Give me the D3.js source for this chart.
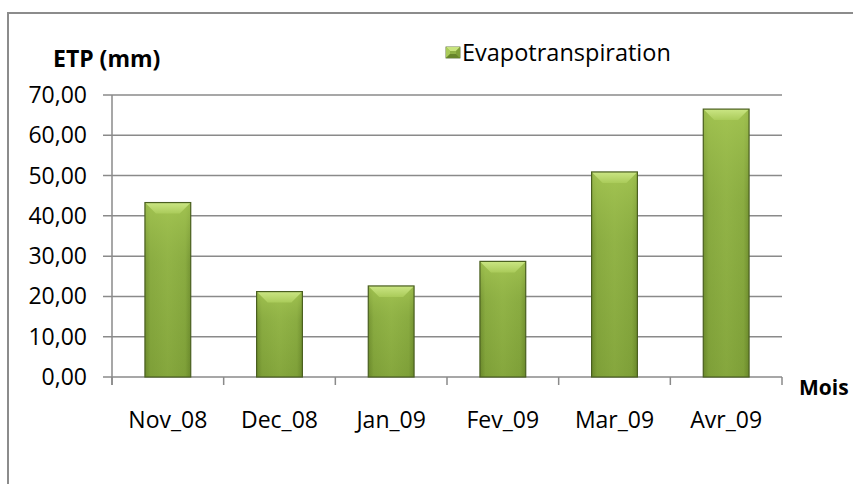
<!DOCTYPE html>
<html>
<head>
<meta charset="utf-8">
<script src="https://cdn.jsdelivr.net/npm/d3@7"></script>
<style>
  html, body { margin: 0; padding: 0; background: #fff; }
  svg { display: block; }
  text { font-family: "Open Sans", sans-serif; fill: #000; }
</style>
</head>
<body>
<svg id="chart" width="853" height="484"></svg>
<script>
// Monthly evapotranspiration (mm)
const months = ["Nov_08", "Dec_08", "Jan_09", "Fev_09", "Mar_09", "Avr_09"];
const etp = [43.3, 21.2, 22.6, 28.7, 50.9, 66.5];
const yTicks = [0, 10, 20, 30, 40, 50, 60, 70];
const seriesName = "Evapotranspiration";
const yTitle = "ETP (mm)";
const xTitle = "Mois";

const svg = d3.select("#chart");
const plot = { left: 112, right: 782, top: 95, bottom: 377 };

const x = d3.scaleBand().domain(months).range([plot.left, plot.right]).paddingInner(0.59).paddingOuter(0.295);
const y = d3.scaleLinear().domain([0, 70]).range([plot.bottom, plot.top]);
const fmt = v => d3.format(".2f")(v).replace(".", ",");

// chart frame
svg.append("path")
  .attr("d", "M8,490 L8,13 L860,13")
  .attr("fill", "none").attr("stroke", "#8c8c8c").attr("stroke-width", 2);

// gradients for the bevelled bars
const defs = svg.append("defs");
const body = defs.append("linearGradient").attr("id", "barBody").attr("x1", 0).attr("x2", 1).attr("y1", 0).attr("y2", 0);
body.append("stop").attr("offset", "0%").attr("stop-color", "#67852a");
body.append("stop").attr("offset", "12%").attr("stop-color", "#84a63d");
body.append("stop").attr("offset", "50%").attr("stop-color", "#8fb145");
body.append("stop").attr("offset", "88%").attr("stop-color", "#84a63d");
body.append("stop").attr("offset", "100%").attr("stop-color", "#67852a");
const vert = defs.append("linearGradient").attr("id", "barVert").attr("x1", 0).attr("x2", 0).attr("y1", 0).attr("y2", 1);
vert.append("stop").attr("offset", "0%").attr("stop-color", "#a8c955").attr("stop-opacity", 0.8);
vert.append("stop").attr("offset", "35%").attr("stop-color", "#98b94b").attr("stop-opacity", 0.3);
vert.append("stop").attr("offset", "100%").attr("stop-color", "#6f8f2c").attr("stop-opacity", 0.3);
const bevel = defs.append("linearGradient").attr("id", "bevelTop").attr("x1", 0).attr("x2", 0).attr("y1", 0).attr("y2", 1);
bevel.append("stop").attr("offset", "0%").attr("stop-color", "#cbe684");
bevel.append("stop").attr("offset", "100%").attr("stop-color", "#aacb5a");

// horizontal gridlines with left tick marks
svg.append("g").selectAll("line").data(yTicks).join("line")
  .attr("x1", plot.left - 9).attr("x2", plot.right)
  .attr("y1", d => y(d)).attr("y2", d => y(d))
  .attr("stroke", "#8a8a8a").attr("stroke-width", 1.5);

// y axis line
svg.append("line")
  .attr("x1", plot.left).attr("x2", plot.left)
  .attr("y1", y(70)).attr("y2", y(0) + 8)
  .attr("stroke", "#8a8a8a").attr("stroke-width", 1.5);

// x axis tick marks at category boundaries
const boundaries = months.map(m => x(m) - x.step() * x.paddingInner() / 2).concat([plot.right]);
svg.append("g").selectAll("line").data(boundaries).join("line")
  .attr("x1", d => d).attr("x2", d => d)
  .attr("y1", y(0)).attr("y2", y(0) + 8)
  .attr("stroke", "#8a8a8a").attr("stroke-width", 1.5);

// y tick labels
svg.append("g").selectAll("text").data(yTicks).join("text")
  .attr("x", 87).attr("y", d => y(d)).attr("dy", "0.35em")
  .attr("text-anchor", "end").attr("font-size", 23)
  .text(fmt);

// x tick labels
svg.append("g").selectAll("text").data(months).join("text")
  .attr("x", d => x(d) + x.bandwidth() / 2).attr("y", 428)
  .attr("text-anchor", "middle").attr("font-size", 23)
  .text(d => d);

// bars
const bars = svg.append("g").selectAll("g").data(months.map((m, i) => ({ m, v: etp[i] }))).join("g");
const bw = x.bandwidth();
bars.append("rect")
  .attr("x", d => x(d.m)).attr("y", d => y(d.v))
  .attr("width", bw).attr("height", d => y(0) - y(d.v))
  .attr("fill", "url(#barBody)");
bars.append("rect")
  .attr("x", d => x(d.m)).attr("y", d => y(d.v))
  .attr("width", bw).attr("height", d => y(0) - y(d.v))
  .attr("fill", "url(#barVert)");
bars.append("path")
  .attr("d", d => {
    const x0 = x(d.m), x1 = x0 + bw, t = y(d.v), b = 11, s = 11;
    return `M${x0},${t} L${x1},${t} L${x1 - s},${t + b} L${x0 + s},${t + b} Z`;
  })
  .attr("fill", "url(#bevelTop)");
bars.append("rect")
  .attr("x", d => x(d.m)).attr("y", d => y(d.v))
  .attr("width", bw).attr("height", d => y(0) - y(d.v))
  .attr("fill", "none").attr("stroke", "#4a5f20").attr("stroke-width", 1.2);

// axis titles
svg.append("text").attr("x", 53).attr("y", 67)
  .attr("font-size", 23).attr("font-weight", "bold").text(yTitle);
svg.append("text").attr("x", 799).attr("y", 395)
  .attr("font-size", 21).attr("font-weight", "bold").text(xTitle);

// legend
const lg = svg.append("g").attr("transform", "translate(446,47)");
lg.append("rect").attr("width", 14).attr("height", 11).attr("fill", "#8fb145").attr("stroke", "#4a5f20").attr("stroke-width", 0.8);
lg.append("path").attr("d", "M0,0 L14,0 L10,4 L4,4 Z").attr("fill", "#c8e47e");
lg.append("path").attr("d", "M0,0 L4,4 L4,7 L0,11 Z").attr("fill", "#aacb5a");
lg.append("path").attr("d", "M14,0 L10,4 L10,7 L14,11 Z").attr("fill", "#7f9f38");
lg.append("path").attr("d", "M0,11 L4,7 L10,7 L14,11 Z").attr("fill", "#67852a");
lg.append("text").attr("x", 16).attr("y", 6).attr("dy", "0.35em")
  .attr("font-size", 23.5).text(seriesName);
</script>
</body>
</html>
